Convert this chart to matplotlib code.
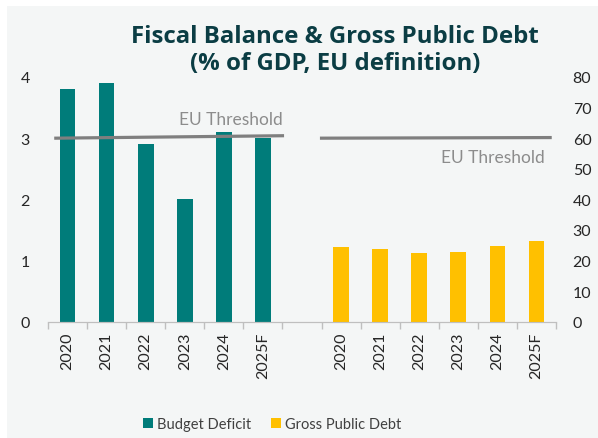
import numpy as np
import matplotlib.pyplot as plt
from matplotlib.patches import Rectangle

plt.rcParams['font.family'] = ['Lato', 'DejaVu Sans']

years = ['2020', '2021', '2022', '2023', '2024', '2025F']
budget_deficit = [3.8, 3.9, 2.9, 2.0, 3.1, 3.0]      # % of GDP, left axis
gross_debt = [24.4, 23.9, 22.6, 22.9, 24.7, 26.4]    # % of GDP, right axis
deficit_threshold = [3.0, 3.04]
debt_threshold = [60.0, 60.2]

teal = '#007C7A'
gold = '#FFC000'
grey = '#7F7F7F'
bg = '#F4F6F6'

fig = plt.figure(figsize=(5.98, 4.39), dpi=100)
fig.patch.set_facecolor('white')
fig.patches.append(Rectangle((7 / 598, 0), 1, 1 - 7 / 439, transform=fig.transFigure,
                             facecolor=bg, edgecolor='none', zorder=-10))

ax = fig.add_axes([48 / 598, 1 - 322.7 / 439, 508 / 598, (322.7 - 78) / 439])
ax.set_facecolor('none')
ax2 = ax.twinx()

n = len(years)
x_left = np.arange(n)
x_right = np.arange(n) + n + 1

ax.bar(x_left, budget_deficit, width=0.4, color=teal, label='Budget Deficit', zorder=2)
ax2.bar(x_right, gross_debt, width=0.4, color=gold, label='Gross Public Debt', zorder=2)

# EU reference levels
ax.plot([-0.3, n - 0.5], deficit_threshold, color=grey, lw=2.3, zorder=3)
ax2.plot([n + 0.5, 2 * n + 0.35], debt_threshold, color=grey, lw=2.3, zorder=3)
ax.text(n - 0.5, 3.18, 'EU Threshold', color='#8C8C8C', fontsize=12.5, ha='right', va='bottom')
ax2.text(2 * n + 0.2, 56.5, 'EU Threshold', color='#8C8C8C', fontsize=12.5, ha='right', va='top')

ax.set_xlim(-0.5, 2 * n + 0.5)
ax.set_ylim(0, 4)
ax2.set_ylim(0, 80)
ax.set_yticks(range(0, 5))
ax2.set_yticks(range(0, 81, 10))

# category labels centred, tick marks on the boundaries
ax.set_xticks(np.arange(-0.5, 2 * n + 1), minor=False)
ax.set_xticklabels([])
ax.set_xticks(np.concatenate([x_left, x_right]), minor=True)
ax.set_xticklabels(years + years, minor=True, rotation=90, fontsize=11.5, color='#262626')
ax.tick_params(axis='x', which='major', length=5, color='#BFBFBF', width=1)
ax.tick_params(axis='x', which='minor', length=0, pad=7)

for a in (ax, ax2):
    for side in ('top', 'left', 'right'):
        a.spines[side].set_visible(False)
    a.spines['bottom'].set_color('#BFBFBF')
    a.tick_params(axis='y', length=0, labelsize=11.5, labelcolor='#262626')
ax.tick_params(axis='y', pad=13)
ax2.tick_params(axis='y', pad=12)

fig.text(0.56, 0.885, 'Fiscal Balance & Gross Public Debt\n(% of GDP, EU definition)',
         ha='center', va='center', fontsize=17.3, fontweight='bold', color='#0B3D44',
         family='Open Sans', linespacing=1.15)

h1, l1 = ax.get_legend_handles_labels()
h2, l2 = ax2.get_legend_handles_labels()
fig.legend(h1 + h2, l1 + l2, loc='center', bbox_to_anchor=(0.455, 0.032), ncol=2,
           frameon=False, fontsize=10.5, handlelength=0.7, handleheight=0.7,
           handletextpad=0.3, columnspacing=1.3, labelcolor='#404040')

fig.savefig('out.png', dpi=100, facecolor=fig.get_facecolor())
